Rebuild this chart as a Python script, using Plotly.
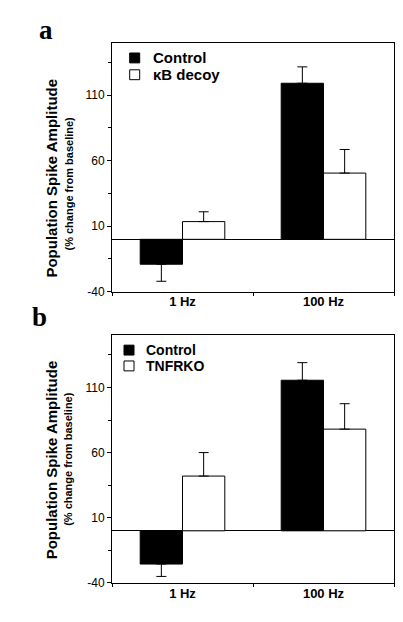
import plotly.graph_objects as go

# ---- data ----
categories = ["1 Hz", "100 Hz"]

a_names = ["Control", "\u03baB decoy"]
a_control = [-19, 119]
a_control_err = [13, 12.5]
a_decoy = [13.5, 50.5]
a_decoy_err = [7.5, 18]

b_names = ["Control", "TNFRKO"]
b_control = [-25.5, 115.5]
b_control_err = [9.5, 13.5]
b_tnfrko = [42, 78]
b_tnfrko_err = [18, 19.5]

y_ticks = [-40, 10, 60, 110]
y_ticklabels = ["-40", "10", "60", "110"]
y_minor = [-15, 35, 85, 135]

W, H = 403, 622
FONT = "Liberation Sans, Arial, sans-serif"
fills = ["black", "white"]


def err(vals, errs):
    plus = [e if v >= 0 else 0 for v, e in zip(vals, errs)]
    minus = [e if v < 0 else 0 for v, e in zip(vals, errs)]
    return dict(type="data", array=plus, arrayminus=minus, symmetric=False,
                color="black", thickness=1, width=5)


def bar(name, vals, errs, fill, xa, ya):
    return go.Bar(x=categories, y=vals, name=name, xaxis=xa, yaxis=ya,
                  marker=dict(color=fill, line=dict(color="black", width=1)),
                  error_y=err(vals, errs), showlegend=False)


fig = go.Figure()
fig.add_trace(bar(a_names[0], a_control, a_control_err, fills[0], "x", "y"))
fig.add_trace(bar(a_names[1], a_decoy, a_decoy_err, fills[1], "x", "y"))
fig.add_trace(bar(b_names[0], b_control, b_control_err, fills[0], "x2", "y2"))
fig.add_trace(bar(b_names[1], b_tnfrko, b_tnfrko_err, fills[1], "x2", "y2"))

xdom = [104 / W, 386 / W]
ya_dom = [1 - 287 / H, 1 - 35 / H]
yb_dom = [1 - 581.5 / H, 1 - 331 / H]

xcommon = dict(showline=True, linecolor="black", linewidth=1, mirror=True,
               ticks="outside", tickson="boundaries", ticklen=3, tickcolor="black",
               tickfont=dict(family=FONT, size=13, color="black", weight="bold"),
               ticklabelstandoff=-2,
               showgrid=False, zeroline=False, fixedrange=True)
ycommon = dict(range=[-40, 150], tickvals=y_ticks, ticktext=y_ticklabels,
               showline=True, linecolor="black",
               linewidth=1, mirror=True, ticks="outside", ticklen=4, tickcolor="black",
               tickfont=dict(family=FONT, size=12, color="black"),
               minor=dict(tickvals=y_minor, ticks="outside", ticklen=3,
                          tickcolor="black"),
               showgrid=False, zeroline=True, zerolinecolor="black", zerolinewidth=1,
               fixedrange=True)

fig.update_layout(
    width=W, height=H,
    margin=dict(l=0, r=0, t=0, b=0),
    paper_bgcolor="white", plot_bgcolor="white",
    barmode="group", bargap=0.4, bargroupgap=0,
    xaxis=dict(domain=xdom, anchor="y", **xcommon),
    yaxis=dict(domain=ya_dom, anchor="x", **ycommon),
    xaxis2=dict(domain=xdom, anchor="y2", **xcommon),
    yaxis2=dict(domain=yb_dom, anchor="x2", **ycommon),
    showlegend=False,
)


def px_x(v):
    return v / W


def px_y(v):
    return 1 - v / H


# ---- legends (square key + label) ----
legend_specs = [
    dict(names=a_names, sq_x=121.7, rows=[50.5, 67.5], text_x=143, size=15),
    dict(names=b_names, sq_x=116, rows=[346, 362], text_x=136, size=14),
]
for spec in legend_specs:
    for name, fill, yc in zip(spec["names"], fills, spec["rows"]):
        fig.add_shape(type="rect", xref="paper", yref="paper",
                      x0=px_x(spec["sq_x"]), x1=px_x(spec["sq_x"] + 10),
                      y0=px_y(yc - 5), y1=px_y(yc + 5),
                      fillcolor=fill, line=dict(color="black", width=1))
        fig.add_annotation(text="<b>%s</b>" % name, x=px_x(spec["text_x"]), y=px_y(yc),
                           xref="paper", yref="paper", showarrow=False,
                           xanchor="left", yanchor="middle",
                           font=dict(family=FONT, size=spec["size"], color="black"))

annots = [
    dict(text="<b>a</b>", x=38, y=22, font=dict(family="Liberation Serif, serif", size=27)),
    dict(text="<b>b</b>", x=31, y=313, font=dict(family="Liberation Serif, serif", size=27)),
    dict(text="<b>Population Spike Amplitude</b>", x=44, y=172.5, textangle=-90,
         font=dict(family=FONT, size=15)),
    dict(text="<b>(% change from baseline)</b>", x=61, y=177.5, textangle=-90,
         font=dict(family=FONT, size=11)),
    dict(text="<b>Population Spike Amplitude</b>", x=43, y=457.5, textangle=-90,
         font=dict(family=FONT, size=15)),
    dict(text="<b>(% change from baseline)</b>", x=60, y=456, textangle=-90,
         font=dict(family=FONT, size=11)),
]
for a in annots:
    fig.add_annotation(text=a["text"], x=px_x(a["x"]), y=px_y(a["y"]),
                       xref="paper", yref="paper", showarrow=False,
                       xanchor="center", yanchor="middle",
                       textangle=a.get("textangle", 0),
                       font=dict(color="black", **a["font"]))

fig.write_html("out.html")
